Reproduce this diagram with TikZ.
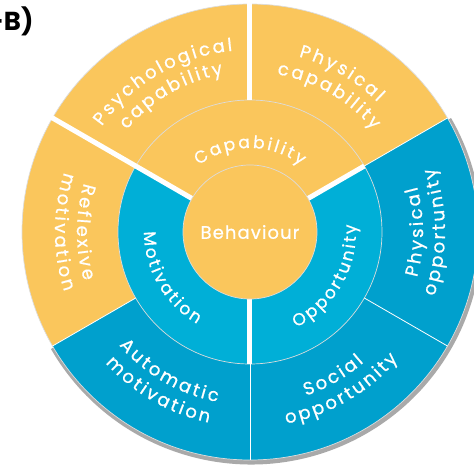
\documentclass[tikz,border=0pt]{standalone}
\usepackage{fontspec}
\setmainfont{Poppins}
\newfontfamily\ringfont{Poppins}[WordSpace=1.1,FakeBold=0.8]
\newfontfamily\outerfont{Poppins}[WordSpace=0.55,FakeBold=0.8]
\newfontfamily\corefont{Poppins}[LetterSpace=6,FakeBold=0.8]
\usetikzlibrary{decorations.text,positioning}
\definecolor{WheelGold}{HTML}{FAC65C}
\definecolor{WheelCyan}{HTML}{00AFD7}
\definecolor{WheelBlue}{HTML}{00A0CD}
\definecolor{WheelShadow}{HTML}{A9A9A9}
\definecolor{WheelRim}{HTML}{DCDCDC}

\newcommand{\ringlabel}{\ringfont\fontsize{17}{20}\selectfont}
\newcommand{\outerlabel}{\outerfont\fontsize{18}{21}\selectfont}
% sector: colour, inner radius, outer radius, start angle, end angle
\newcommand{\wheelsector}[5]{\fill[#1] (#4:#2) arc[start angle=#4,end angle=#5,radius=#2] -- (#5:#3) arc[start angle=#5,end angle=#4,radius=#3] -- cycle;}
% curved labels: radius, mid angle, font, text (letters spaced out)
\newcommand{\toplabel}[4]{\path[decorate,decoration={text along path,text align=center,text color=white,text={|#3|#4}}] (#2+70:#1) arc[start angle=#2+70,end angle=#2-70,radius=#1];}
\newcommand{\lowlabel}[4]{\path[decorate,decoration={text along path,text align=center,text color=white,text={|#3|#4}}] (#2-70:#1) arc[start angle=#2-70,end angle=#2+70,radius=#1];}

\begin{document}
\begin{tikzpicture}[x=1pt,y=1pt]
  \tikzset{gap/.style={white,line width=5pt},seam/.style={white,line width=0.8pt},
    rim/.style={WheelRim,line width=0.7pt}}
  \useasboundingbox (-250,-237) rectangle (224,232);

  % outer ring
  \fill[WheelShadow,shift={(1,-1.5)}] (210:60) -- (210:231) arc[start angle=210,end angle=390,radius=231] -- cycle;
  \wheelsector{WheelGold}{60}{228}{90}{150}
  \wheelsector{WheelGold}{60}{228}{30}{90}
  \wheelsector{WheelGold}{60}{228}{150}{210}
  \wheelsector{WheelBlue}{60}{228}{210}{270}
  \wheelsector{WheelBlue}{60}{228}{270}{330}
  \wheelsector{WheelBlue}{60}{228}{330}{390}
  \draw[rim] (0,0) circle[radius=228];

  % middle ring
  \wheelsector{WheelGold}{60}{132}{30}{150}
  \wheelsector{WheelCyan}{60}{132}{150}{270}
  \wheelsector{WheelCyan}{60}{132}{270}{390}
  \draw[rim] (0,0) circle[radius=132];

  \foreach \a in {30,210,270,330}
    \draw[seam] (\a:132) -- (\a:228);
  \draw[gap] (90:132) -- (90:230);
  \draw[gap] (150:67) -- (150:232);
  \draw[gap] (30:67) -- (30:132);
  \draw[gap] (270:67) -- (270:132);

  \fill[WheelGold] (0,0) circle[radius=67];
  \draw[rim] (0,0) circle[radius=67];
  \node[text=white,font=\corefont\fontsize{18}{21}\selectfont] (behaviour) at (0,0) {Behaviour};

  \toplabel{84}{90}{\ringlabel}{C a p a b i l i t y}
  \lowlabel{106}{210}{\ringlabel}{M o t i v a t i o n}
  \lowlabel{106}{330}{\ringlabel}{O p p o r t u n i t y}

  \toplabel{182}{120}{\outerlabel}{P s y c h o l o g i c a l}
  \toplabel{160}{120}{\outerlabel}{c a p a b i l i t y}
  \toplabel{182}{60}{\outerlabel}{P h y s i c a l}
  \toplabel{160}{60}{\outerlabel}{c a p a b i l i t y}
  \lowlabel{173}{180}{\outerlabel}{R e f l e x i v e}
  \lowlabel{195}{180}{\outerlabel}{m o t i v a t i o n}
  \lowlabel{173}{240}{\outerlabel}{A u t o m a t i c}
  \lowlabel{195}{240}{\outerlabel}{m o t i v a t i o n}
  \lowlabel{173}{300}{\outerlabel}{S o c i a l}
  \lowlabel{195}{300}{\outerlabel}{o p p o r t u n i t y}
  \lowlabel{173}{0}{\outerlabel}{P h y s i c a l}
  \lowlabel{195}{0}{\outerlabel}{o p p o r t u n i t y}

  \node[anchor=east,font=\bfseries\fontsize{26}{29}\selectfont] (panel) at (-213,211) {-B)};
\end{tikzpicture}
\end{document}
